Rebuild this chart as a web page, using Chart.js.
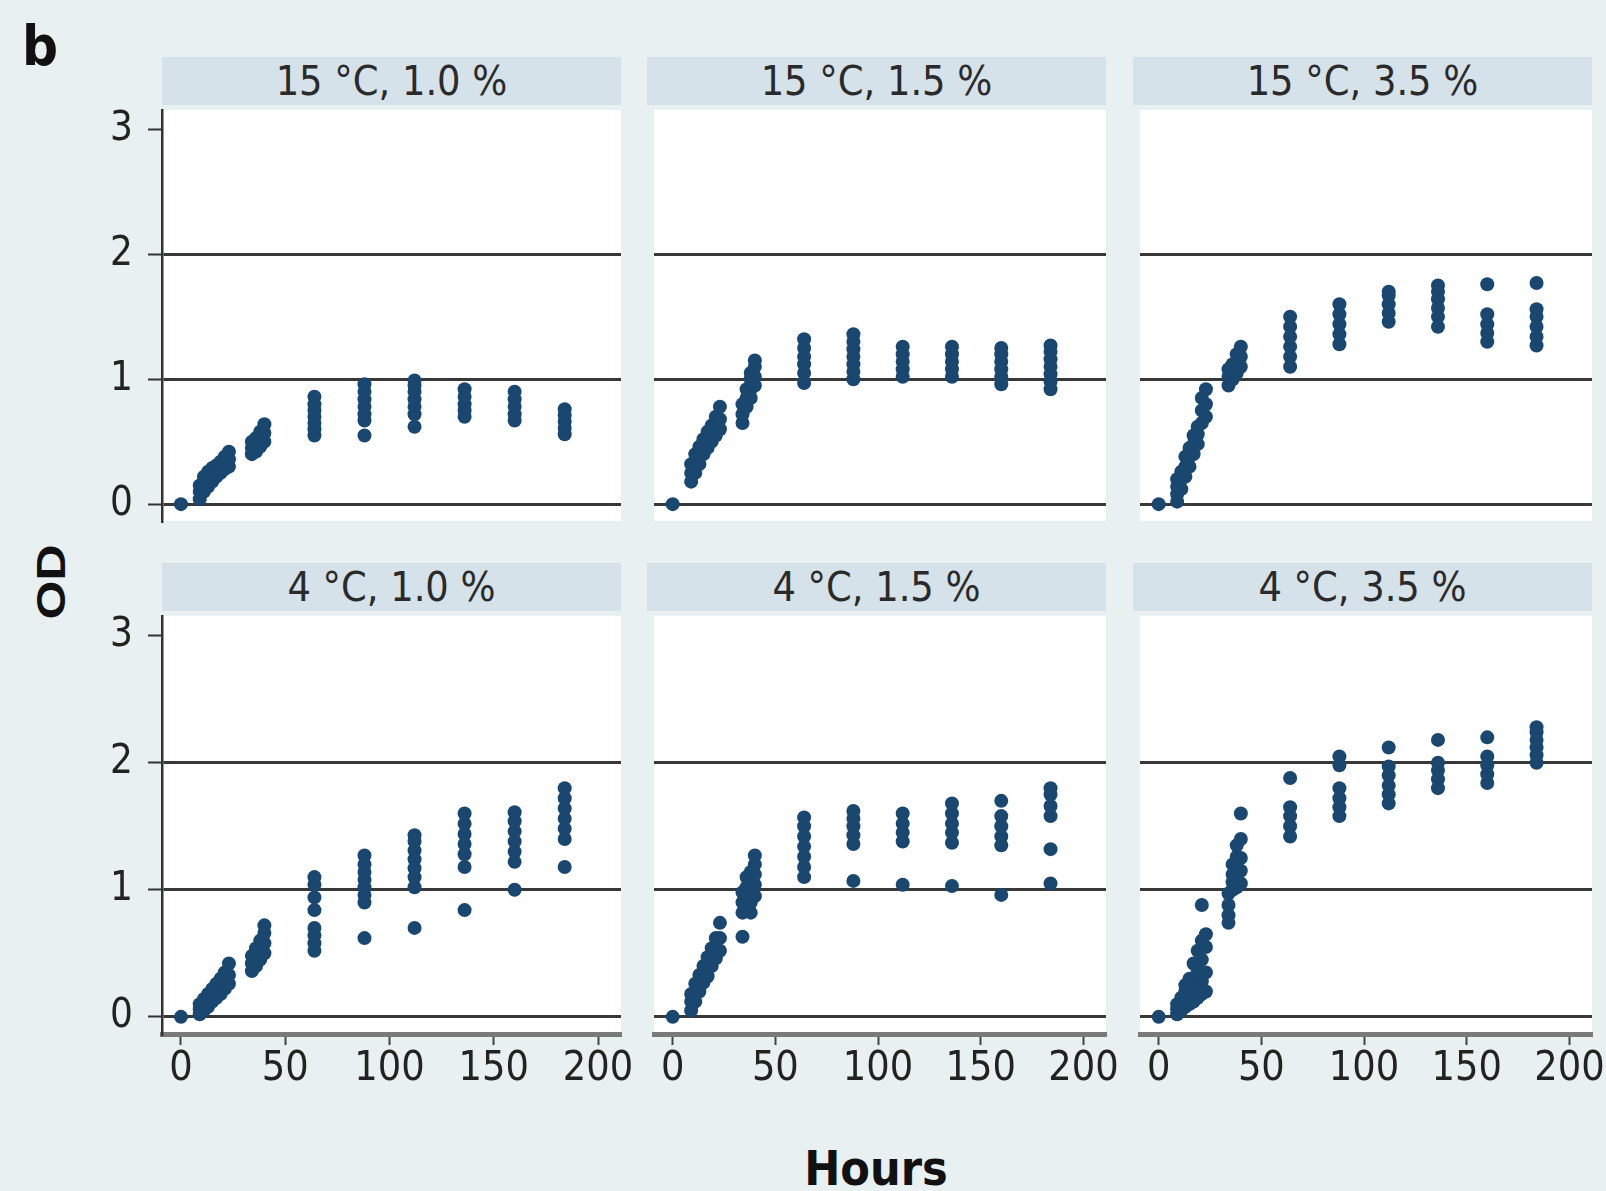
<!DOCTYPE html>
<html>
<head>
<meta charset="utf-8">
<script src="https://cdn.jsdelivr.net/npm/chart.js@4.4.1/dist/chart.umd.min.js"></script>
<style>
  html, body { margin: 0; padding: 0; }
  body {
    width: 1606px; height: 1191px; position: relative; overflow: hidden;
    background: #e9f0f2; color: #222;
    font-family: 'Liberation Sans Narrow', 'Arial Narrow', 'DejaVu Sans Condensed', 'Liberation Sans', Arial, sans-serif;
  }
  .strip {
    position: absolute; height: 48px; line-height: 48px; background: #d6e2e9;
    text-align: center; font-size: 41px; color: #2a2a2a; white-space: nowrap;
  }
  .label { position: absolute; font-weight: bold; color: #111; white-space: nowrap; line-height: 1; }
  canvas { position: absolute; }
</style>
</head>
<body>
<div class="label" id="panelLetter" style="left:22px; top:18px; font-size:56px;">b</div>
<div class="label" id="yTitle" style="left:51px; top:582px; font-size:50px; font-family:'Liberation Sans', Arial, sans-serif; transform: translate(-50%, -50%) rotate(-90deg) scaleY(0.8);">OD</div>
<div class="label" id="xTitle" style="left:876px; top:1168px; font-size:48px; transform: translate(-50%, -50%);">Hours</div>

<script>
// sampling times (h), shared by all panels
const hours = [0, 9, 11, 13, 15, 17, 19, 21, 23, 34, 36, 38, 40, 64, 88, 112, 136, 160, 184];

const panelTitles = ['15 °C, 1.0 %', '15 °C, 1.5 %', '15 °C, 3.5 %', '4 °C, 1.0 %', '4 °C, 1.5 %', '4 °C, 3.5 %'];
const yTicks = [0, 1, 2, 3];
const xTicks = [0, 50, 100, 150, 200];

// OD replicates at each sampling time
const od15_10 = [
    [0], [0.04, 0.1, 0.15], [0.1, 0.17, 0.22], [0.14, 0.2, 0.26], [0.18, 0.24, 0.29],
    [0.22, 0.27, 0.31], [0.25, 0.3, 0.34], [0.28, 0.33, 0.38], [0.3, 0.36, 0.42],
    [0.4, 0.45, 0.5], [0.42, 0.48, 0.53], [0.46, 0.52, 0.58], [0.5, 0.57, 0.64],
    [0.55, 0.6, 0.65, 0.7, 0.75, 0.8, 0.86],
    [0.55, 0.67, 0.72, 0.78, 0.84, 0.9, 0.96],
    [0.62, 0.72, 0.78, 0.84, 0.9, 0.95, 0.99],
    [0.7, 0.75, 0.8, 0.86, 0.92],
    [0.67, 0.72, 0.78, 0.84, 0.9],
    [0.56, 0.61, 0.66, 0.71, 0.76]
];
const od15_15 = [
    [0], [0.18, 0.25, 0.32], [0.25, 0.32, 0.4], [0.32, 0.4, 0.46], [0.4, 0.46, 0.52],
    [0.45, 0.52, 0.58], [0.5, 0.57, 0.63], [0.55, 0.62, 0.7], [0.6, 0.68, 0.78],
    [0.65, 0.72, 0.8], [0.78, 0.85, 0.92], [0.85, 0.92, 1.0, 1.05], [0.95, 1.02, 1.1, 1.15],
    [0.97, 1.05, 1.12, 1.18, 1.25, 1.32],
    [1.0, 1.06, 1.12, 1.18, 1.24, 1.3, 1.36],
    [1.02, 1.08, 1.14, 1.2, 1.26],
    [1.02, 1.08, 1.14, 1.2, 1.26],
    [0.96, 1.02, 1.08, 1.14, 1.2, 1.25],
    [0.92, 0.98, 1.04, 1.1, 1.16, 1.22, 1.27]
];
const od15_35 = [
    [0], [0.02, 0.08, 0.14, 0.2], [0.12, 0.2, 0.26], [0.22, 0.3, 0.38], [0.3, 0.38, 0.45],
    [0.4, 0.48, 0.55], [0.48, 0.56, 0.62], [0.65, 0.75, 0.85], [0.7, 0.8, 0.92],
    [0.95, 1.02, 1.08], [1.0, 1.06, 1.12], [1.05, 1.12, 1.2], [1.1, 1.18, 1.26],
    [1.1, 1.18, 1.26, 1.34, 1.42, 1.5],
    [1.28, 1.36, 1.44, 1.52, 1.6],
    [1.46, 1.53, 1.6, 1.67, 1.7],
    [1.42, 1.5, 1.57, 1.64, 1.7, 1.75],
    [1.3, 1.37, 1.44, 1.52, 1.76],
    [1.27, 1.34, 1.42, 1.5, 1.56, 1.77]
];
const od4_10 = [
    [0], [0.02, 0.06, 0.1], [0.05, 0.1, 0.14], [0.08, 0.13, 0.18], [0.12, 0.17, 0.22],
    [0.15, 0.2, 0.26], [0.18, 0.24, 0.3], [0.22, 0.28, 0.35], [0.26, 0.33, 0.42],
    [0.36, 0.42, 0.48], [0.4, 0.47, 0.54], [0.45, 0.52, 0.6], [0.5, 0.58, 0.66, 0.72],
    [0.52, 0.58, 0.64, 0.7, 0.84, 0.94, 1.04, 1.1],
    [0.62, 0.9, 0.96, 1.02, 1.08, 1.14, 1.2, 1.27],
    [0.7, 1.02, 1.1, 1.17, 1.24, 1.31, 1.38, 1.43],
    [0.84, 1.18, 1.28, 1.36, 1.44, 1.52, 1.6],
    [1.0, 1.22, 1.3, 1.38, 1.46, 1.54, 1.61],
    [1.18, 1.4, 1.48, 1.56, 1.64, 1.72, 1.8]
];
const od4_15 = [
    [0], [0.05, 0.12, 0.18], [0.12, 0.2, 0.26], [0.2, 0.27, 0.33], [0.27, 0.33, 0.4],
    [0.32, 0.4, 0.47], [0.4, 0.47, 0.54], [0.46, 0.54, 0.62], [0.52, 0.62, 0.74],
    [0.63, 0.82, 0.9, 0.98], [0.86, 0.94, 1.02, 1.1], [0.82, 0.9, 0.98, 1.06, 1.14], [0.95, 1.04, 1.12, 1.2, 1.27],
    [1.1, 1.18, 1.26, 1.34, 1.42, 1.5, 1.57],
    [1.07, 1.36, 1.43, 1.5, 1.56, 1.62],
    [1.04, 1.38, 1.45, 1.52, 1.6],
    [1.03, 1.37, 1.45, 1.52, 1.6, 1.68],
    [0.96, 1.35, 1.42, 1.5, 1.58, 1.7],
    [1.05, 1.32, 1.58, 1.66, 1.75, 1.8]
];
const od4_35 = [
    [0], [0.02, 0.06, 0.1], [0.05, 0.1, 0.15], [0.08, 0.14, 0.2, 0.25], [0.1, 0.17, 0.24, 0.3],
    [0.12, 0.2, 0.3, 0.42], [0.15, 0.24, 0.36, 0.52], [0.18, 0.28, 0.45, 0.6, 0.88], [0.2, 0.35, 0.55, 0.65],
    [0.74, 0.8, 0.88, 0.97], [1.0, 1.06, 1.12, 1.2], [1.02, 1.1, 1.18, 1.26, 1.35], [1.05, 1.15, 1.25, 1.4, 1.6],
    [1.42, 1.5, 1.58, 1.65, 1.88],
    [1.58, 1.65, 1.72, 1.8, 1.98, 2.05],
    [1.68, 1.75, 1.82, 1.9, 1.97, 2.12],
    [1.8, 1.87, 1.94, 2.0, 2.18],
    [1.84, 1.91, 1.98, 2.05, 2.2],
    [2.0, 2.06, 2.12, 2.18, 2.24, 2.28]
];

const panelData = [od15_10, od15_15, od15_35, od4_10, od4_15, od4_35];

// layout of the facet grid (px)
const colLeft = [162, 647, 1133];
const rowTop = [110, 616];
const plotW = 459;
const plotH = 418;
const xMin = -9.1, xMax = 211;
const yMin = -0.135, yMax = 3.155;

const markerColor = '#1a476f';
const gridColor = '#383838';
const fontFamily = "'Liberation Sans Narrow', 'Arial Narrow', 'DejaVu Sans Condensed', 'Liberation Sans', Arial, sans-serif";

const plotBg = {
    id: 'plotBg',
    beforeDraw(chart) {
        const { ctx, chartArea: a } = chart;
        ctx.save();
        ctx.fillStyle = '#ffffff';
        ctx.fillRect(a.left, a.top, a.width, a.height);
        ctx.restore();
    }
};

function addStrip(col, row, text) {
    const s = document.createElement('div');
    s.className = 'strip';
    s.style.left = colLeft[col] + 'px';
    s.style.width = plotW + 'px';
    s.style.top = (rowTop[row] - 53) + 'px';
    s.textContent = text;
    document.body.appendChild(s);
}

function makePanel(idx) {
    const col = idx % 3;
    const row = Math.floor(idx / 3);
    const padL = col === 0 ? 100 : 0;
    const padB = row === 1 ? 100 : 0;
    const padT = 26, padR = 26;

    addStrip(col, row, panelTitles[idx]);

    const canvas = document.createElement('canvas');
    const w = plotW + padL + padR;
    const h = plotH + padT + padB;
    canvas.width = w;
    canvas.height = h;
    canvas.style.left = (colLeft[col] - padL) + 'px';
    canvas.style.top = (rowTop[row] - padT) + 'px';
    canvas.style.width = w + 'px';
    canvas.style.height = h + 'px';
    document.body.appendChild(canvas);

    const pts = [];
    panelData[idx].forEach((reps, i) => {
        reps.forEach(v => pts.push({ x: hours[i], y: v }));
    });

    new Chart(canvas.getContext('2d'), {
        type: 'scatter',
        data: {
            datasets: [{
                data: pts,
                backgroundColor: markerColor,
                borderColor: markerColor,
                borderWidth: 0,
                pointRadius: 7,
                pointHoverRadius: 7
            }]
        },
        options: {
            responsive: false,
            animation: false,
            events: [],
            layout: { padding: { top: padT, right: padR, left: 0, bottom: 0 } },
            plugins: { legend: { display: false }, tooltip: { enabled: false } },
            scales: {
                x: {
                    type: 'linear',
                    min: xMin,
                    max: xMax,
                    display: row === 1,
                    afterBuildTicks: s => { s.ticks = xTicks.map(v => ({ value: v })); },
                    afterFit: s => {
                        s.height = padB;
                        s.paddingLeft = 0; s.paddingRight = 0;
                    },
                    grid: { drawOnChartArea: false, drawTicks: true, tickLength: 11, tickColor: '#444', tickWidth: 2 },
                    border: { display: true, color: '#7a7a7a', width: 5 },
                    ticks: {
                        autoSkip: false, maxRotation: 0, padding: 0, color: '#222',
                        font: { size: 41, family: fontFamily }
                    }
                },
                y: {
                    type: 'linear',
                    min: yMin,
                    max: yMax,
                    afterBuildTicks: s => { s.ticks = yTicks.map(v => ({ value: v })); },
                    afterFit: s => {
                        s.width = padL;
                        s.paddingTop = 0; s.paddingBottom = 0;
                    },
                    grid: {
                        color: ctx => (ctx.tick && ctx.tick.value === 3) ? 'rgba(0,0,0,0)' : gridColor,
                        lineWidth: 3,
                        drawTicks: col === 0,
                        tickLength: 14,
                        tickColor: '#333',
                        tickWidth: 2
                    },
                    border: { display: col === 0, color: '#333', width: 2.5 },
                    ticks: {
                        display: col === 0, padding: 15, color: '#222',
                        font: { size: 40, family: fontFamily }
                    }
                }
            }
        },
        plugins: [plotBg]
    });
}

for (let i = 0; i < 6; i++) makePanel(i);
</script>
</body>
</html>
